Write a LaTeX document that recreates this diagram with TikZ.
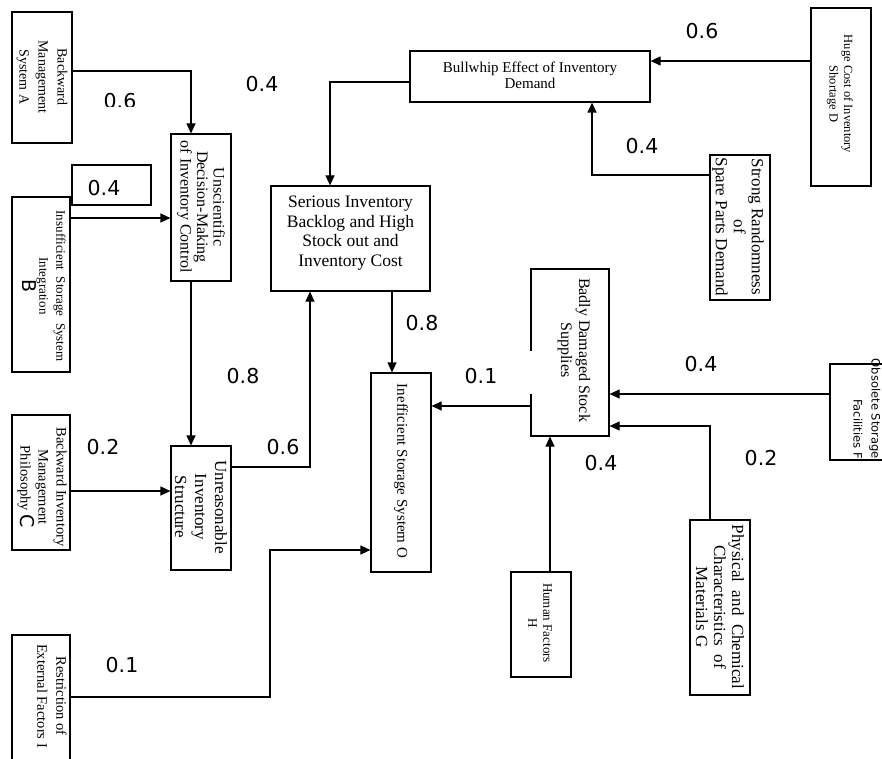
\documentclass[tikz,border=0pt]{standalone}
\usepackage{fontspec}
\setmainfont{Liberation Serif}
\newfontfamily\numfont{DejaVu Sans}
\usetikzlibrary{arrows.meta}
\begin{document}
\begin{tikzpicture}[x=1pt,y=-1pt,
  box/.style={draw, line width=1.2pt, inner sep=0pt},
  arr/.style={line width=1.2pt, -{Triangle[length=10pt,width=9pt]}},
  wt/.style={font=\numfont\fontsize{20.5}{22}\selectfont, inner sep=0pt},
  vt/.style={rotate=-90, align=center, inner sep=0pt},
  fs/.style args={#1/#2}{font=\fontsize{#1}{#2}\selectfont}]
\useasboundingbox (0,0) rectangle (882,759);
\clip (0,0) rectangle (882,759);

% boxes
\node[box, minimum width=60pt, minimum height=131pt] (A) at (42,77.5) {};
\node[box, minimum width=60pt, minimum height=147pt] (U) at (201,207.5) {};
\node[box, minimum width=79pt, minimum height=40pt] (W) at (111.5,185) {};
\node[box, minimum width=58pt, minimum height=175pt] (B) at (41,284.5) {};
\node[box, minimum width=58pt, minimum height=135pt] (C) at (41,482.5) {};
\node[box, minimum width=60pt, minimum height=124pt] (R) at (201,508) {};
\node[box, minimum width=159pt, minimum height=105pt] (S) at (350.5,238.5) {};
\node[box, minimum width=240pt, minimum height=51pt] (BW) at (530,76.5) {};
\node[box, minimum width=60pt, minimum height=178pt] (D) at (841,97) {};
\node[box, minimum width=60pt, minimum height=145pt] (SR) at (740,227.5) {};
\node[box, minimum width=60pt, minimum height=199pt] (O) at (401,472.5) {};
\node[box, minimum width=78pt, minimum height=167pt] (BD) at (570,352.5) {};
\node[box, minimum width=65pt, minimum height=96pt] (F) at (862.5,412) {};
\node[box, minimum width=60pt, minimum height=175pt] (G) at (720,607.5) {};
\node[box, minimum width=60pt, minimum height=105pt] (H) at (541,624.5) {};
\node[box, minimum width=58pt, minimum height=135pt] (I) at (41,702.5) {};

% gap in left edge of BD
\draw[white, line width=2.5pt] (BD.north west |- 0,351) -- (BD.north west |- 0,394);

% texts
\node[vt, fs=14/19] (tA) at (42,77) {Backward\\Management\\System A};
\node[vt, fs=16/16.5] (tU) at (201,207) {Unscientific\\Decision-Making\\of Inventory Control};
\node[vt, fs=13/17] (tB) at (44,286) {Insufficient\ \ Storage\ \ System\\Integration\\{\numfont\fontsize{19}{19}\selectfont B}};
\node[vt, fs=14.5/18] (tC) at (42,487) {Backward Inventory\\Management\\Philosophy {\numfont\fontsize{19}{19}\selectfont C}};
\node[vt, fs=17/20] (tR) at (201,507) {Unreasonable\\Inventory\\Structure};
\node[align=center, inner sep=0pt, fs=17.5/19.5] (tS) at (350.5,233) {Serious Inventory\\Backlog and High\\Stock out and\\Inventory Cost};
\node[align=center, inner sep=0pt, fs=15/16] (tBW) at (530,75) {Bullwhip Effect of Inventory\\Demand};
\node[vt, fs=12.5/14.5] (tD) at (840,94) {Huge Cost of Inventory\\Shortage D};
\node[vt, fs=17/18] (tSR) at (738,227) {Strong Randomness\\of\\Spare Parts Demand};
\node[vt, fs=15/16] (tO) at (401,471) {Inefficient Storage System O};
\node[vt, fs=16/18] (tBD) at (574,350) {Badly Damaged Stock\\Supplies};
\node[vt, align=right, anchor=east, font=\numfont\fontsize{11.5}{18}\selectfont] (tF) at (867,459) {Obsolete Storage\\Facilities F};
\node[vt, fs=17/18] (tG) at (720,607) {Physical\ \ and\ \ Chemical\\Characteristics\ \ of\\Materials G};
\node[vt, fs=13/15] (tH) at (540,623) {Human Factors\\H};
\node[vt, fs=14.5/19] (tI) at (52,696) {Restriction of\\External Factors I};

% connectors
\coordinate (iturn) at (270,550);
\draw[arr] (A.east |- 0,71) -| (U.north -| 191,0);
\draw[arr] (B.east |- 0,218) -- (U.west |- 0,218);
\draw[arr] (U.south -| 191,0) -- (R.north -| 191,0);
\draw[arr] (C.east |- 0,491) -- (R.west |- 0,491);
\draw[arr] (R.east |- 0,467) -| (S.south -| 310,0);
\draw[arr] (BW.west |- 0,82) -| (S.north -| 330,0);
\draw[arr] (D.west |- 0,61) -- (BW.east |- 0,61);
\draw[arr] (SR.west |- 0,175) -| (BW.south -| 592,0);
\draw[arr] (S.south -| 392,0) -- (O.north -| 392,0);
\draw[arr] (BD.west |- 0,406) -- (O.east |- 0,406);
\draw[arr] (F.west |- 0,394) -- (BD.east |- 0,394);
\draw[arr] (G.north -| 710,0) |- (BD.east |- 0,426);
\draw[arr] (H.north -| 550,0) -- (BD.south -| 550,0);
\draw[arr] (I.east |- 0,697) -| (iturn) -- (O.west |- 0,550);

% weights
\begin{scope}
\clip (90,85) rectangle (160,107);
\node[wt] (l1) at (120,101) {0.6};
\end{scope}
\node[wt] (l2) at (104,188) {0.4};
\node[wt] (l3) at (243,376) {0.8};
\node[wt] (l4) at (103,447) {0.2};
\node[wt] (l5) at (283,447) {0.6};
\node[wt] (l6) at (262,84) {0.4};
\node[wt] (l7) at (702,31) {0.6};
\node[wt] (l8) at (642,146) {0.4};
\node[wt] (l9) at (422,323) {0.8};
\node[wt] (l10) at (481,376) {0.1};
\node[wt] (l11) at (701,364) {0.4};
\node[wt] (l12) at (761,458) {0.2};
\node[wt] (l13) at (601,463) {0.4};
\node[wt] (l14) at (122,665) {0.1};
\end{tikzpicture}
\end{document}
